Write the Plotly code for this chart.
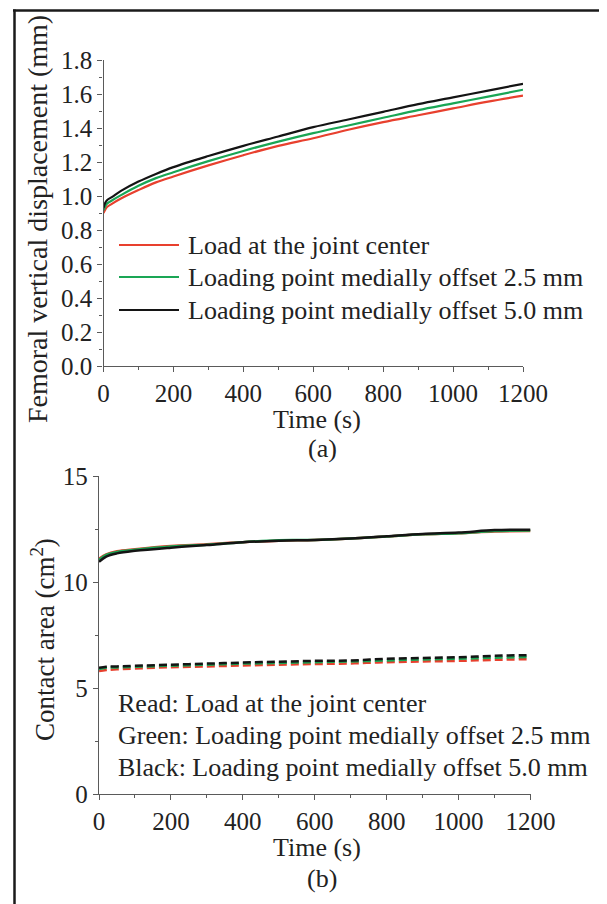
import plotly.graph_objects as go

# The page body adds an 8 px offset; the figure is sized to fill the window exactly.
OFF = 8
W, H = 607 - OFF, 904 - OFF

# ---------- data ----------
time_a = [0, 5, 10, 25, 50, 100, 150, 200, 300, 400, 500, 600, 700, 800, 900, 1000, 1100, 1200]
disp_center = [0.90, 0.92, 0.935, 0.955, 0.985, 1.035, 1.08, 1.115, 1.18, 1.24, 1.295, 1.34, 1.39, 1.435, 1.475, 1.515, 1.555, 1.59]
disp_off25 = [0.915, 0.94, 0.955, 0.975, 1.005, 1.06, 1.105, 1.14, 1.205, 1.265, 1.32, 1.37, 1.415, 1.46, 1.505, 1.545, 1.585, 1.625]
disp_off50 = [0.93, 0.96, 0.975, 0.995, 1.03, 1.085, 1.13, 1.17, 1.235, 1.295, 1.35, 1.405, 1.45, 1.495, 1.54, 1.58, 1.62, 1.66]

time_b = [0, 20, 50, 100, 200, 300, 400, 500, 600, 700, 800, 900, 1000, 1100, 1200]
area_total_center = [11.1, 11.3, 11.45, 11.55, 11.7, 11.78, 11.88, 11.95, 11.98, 12.05, 12.15, 12.25, 12.3, 12.38, 12.4]
area_total_off25 = [11.05, 11.28, 11.42, 11.52, 11.67, 11.76, 11.88, 11.97, 11.98, 12.05, 12.15, 12.25, 12.3, 12.4, 12.43]
area_total_off50 = [10.95, 11.2, 11.35, 11.47, 11.62, 11.74, 11.87, 11.95, 11.98, 12.05, 12.16, 12.27, 12.33, 12.45, 12.47]
area_med_center = [5.8, 5.85, 5.88, 5.92, 5.98, 6.02, 6.06, 6.1, 6.13, 6.16, 6.22, 6.25, 6.28, 6.33, 6.36]
area_med_off25 = [5.9, 5.95, 5.97, 6.0, 6.05, 6.1, 6.15, 6.18, 6.22, 6.25, 6.3, 6.35, 6.38, 6.43, 6.46]
area_med_off50 = [5.95, 6.0, 6.02, 6.05, 6.1, 6.15, 6.2, 6.24, 6.28, 6.3, 6.38, 6.42, 6.45, 6.52, 6.55]

legend_a = ["Load at the joint center",
            "Loading point medially offset 2.5 mm",
            "Loading point medially offset 5.0 mm"]
notes_b = ["Read: Load at the joint center",
           "Green: Loading point medially offset 2.5 mm",
           "Black: Loading point medially offset 5.0 mm"]

RED, GREEN, BLACK = "#e8402e", "#1aa655", "#141414"
colors = [RED, GREEN, BLACK]
FONT = "Liberation Serif"
TXT = "#222222"
AXC = "#5a5a5a"


def px(x):
    return (x - OFF) / W


def py(y):
    return 1 - (y - OFF) / H


fig = go.Figure()

for ys, c in zip([disp_center, disp_off25, disp_off50], colors):
    fig.add_trace(go.Scatter(x=time_a, y=ys, mode="lines", line=dict(color=c, width=2.2, shape="spline"),
                             xaxis="x", yaxis="y", showlegend=False))

for ys, c in zip([area_med_center, area_med_off25, area_med_off50], colors):
    fig.add_trace(go.Scatter(x=time_b, y=ys, mode="lines", line=dict(color=c, width=2.5, dash="8px,4px", shape="spline"),
                             xaxis="x2", yaxis="y2", showlegend=False))
for ys, c in zip([area_total_center, area_total_off25, area_total_off50], colors):
    fig.add_trace(go.Scatter(x=time_b, y=ys, mode="lines", line=dict(color=c, width=2.5, shape="spline"),
                             xaxis="x2", yaxis="y2", showlegend=False))

tickfont = dict(family=FONT, size=25, color=TXT)
common = dict(showgrid=False, zeroline=False, showline=True, linecolor=AXC, linewidth=1.3,
              ticks="outside", ticklen=5, tickwidth=1.2, tickcolor=AXC, tickfont=tickfont)

fig.update_layout(
    width=W, height=H,
    margin=dict(l=0, r=0, t=0, b=0, autoexpand=False),
    paper_bgcolor="white", plot_bgcolor="white",
    xaxis=dict(domain=[px(103.5), px(523)], range=[0, 1200], tickvals=[0, 200, 400, 600, 800, 1000, 1200],
               minor=dict(dtick=100, ticks="outside", ticklen=3, tickcolor=AXC), anchor="y", **common),
    yaxis=dict(domain=[py(366), py(60)], range=[0, 1.8], tickvals=[0, 0.2, 0.4, 0.6, 0.8, 1.0, 1.2, 1.4, 1.6, 1.8],
               tickformat=".1f", minor=dict(dtick=0.1, ticks="outside", ticklen=3, tickcolor=AXC), anchor="x", **common),
    xaxis2=dict(domain=[px(99), px(530.5)], range=[0, 1200], tickvals=[0, 200, 400, 600, 800, 1000, 1200],
                minor=dict(dtick=100, ticks="outside", ticklen=3, tickcolor=AXC), anchor="y2", **common),
    yaxis2=dict(domain=[py(794), py(476)], range=[0, 15], tickvals=[0, 5, 10, 15],
                minor=dict(dtick=2.5, ticks="outside", ticklen=3, tickcolor=AXC), anchor="x2", **common),
)

ann = []
tfont = dict(family=FONT, size=26, color=TXT)
yfont = dict(family=FONT, size=28, color=TXT)
yfont_b = dict(family=FONT, size=27, color=TXT)
# axis titles
ann.append(dict(x=px(317), y=py(419), text="Time (s)", showarrow=False, xref="paper", yref="paper",
                xanchor="center", yanchor="middle", font=tfont))
ann.append(dict(x=px(322), y=py(448), text="(a)", showarrow=False, xref="paper", yref="paper",
                xanchor="center", yanchor="middle", font=tfont))
ann.append(dict(x=px(38), y=py(219), text="Femoral vertical displacement (mm)", textangle=-90, showarrow=False,
                xref="paper", yref="paper", xanchor="center", yanchor="middle", font=yfont))
ann.append(dict(x=px(317), y=py(847), text="Time (s)", showarrow=False, xref="paper", yref="paper",
                xanchor="center", yanchor="middle", font=tfont))
ann.append(dict(x=px(322), y=py(878), text="(b)", showarrow=False, xref="paper", yref="paper",
                xanchor="center", yanchor="middle", font=tfont))
ann.append(dict(x=px(43), y=py(640), text="Contact area (cm<sup>2</sup>)", textangle=-90, showarrow=False,
                xref="paper", yref="paper", xanchor="center", yanchor="middle", font=yfont_b))

shapes = []
# legend (a)
for i, (lab, c) in enumerate(zip(legend_a, colors)):
    yy = [245, 277, 310][i]
    shapes.append(dict(type="line", xref="paper", yref="paper", x0=px(119), x1=px(179), y0=py(yy), y1=py(yy),
                       line=dict(color=c, width=2.2)))
    ann.append(dict(x=px(186), y=py(yy), text=lab, showarrow=False, xref="paper", yref="paper",
                    xanchor="left", yanchor="middle", font=tfont))
# notes (b)
for i, lab in enumerate(notes_b):
    yy = [703, 735, 767][i]
    ann.append(dict(x=px(116), y=py(yy), text=lab, showarrow=False, xref="paper", yref="paper",
                    xanchor="left", yanchor="middle", font=tfont))

# outer frame (top and left edges)
shapes.append(dict(type="line", xref="paper", yref="paper", x0=px(13), x1=1.0, y0=py(10.5), y1=py(10.5),
                   line=dict(color="#1a1a1a", width=2.5)))
shapes.append(dict(type="line", xref="paper", yref="paper", x0=px(14.5), x1=px(14.5), y0=py(9.5), y1=0,
                   line=dict(color="#1a1a1a", width=2.5)))

fig.update_layout(annotations=ann, shapes=shapes)
fig.write_html("out.html")
